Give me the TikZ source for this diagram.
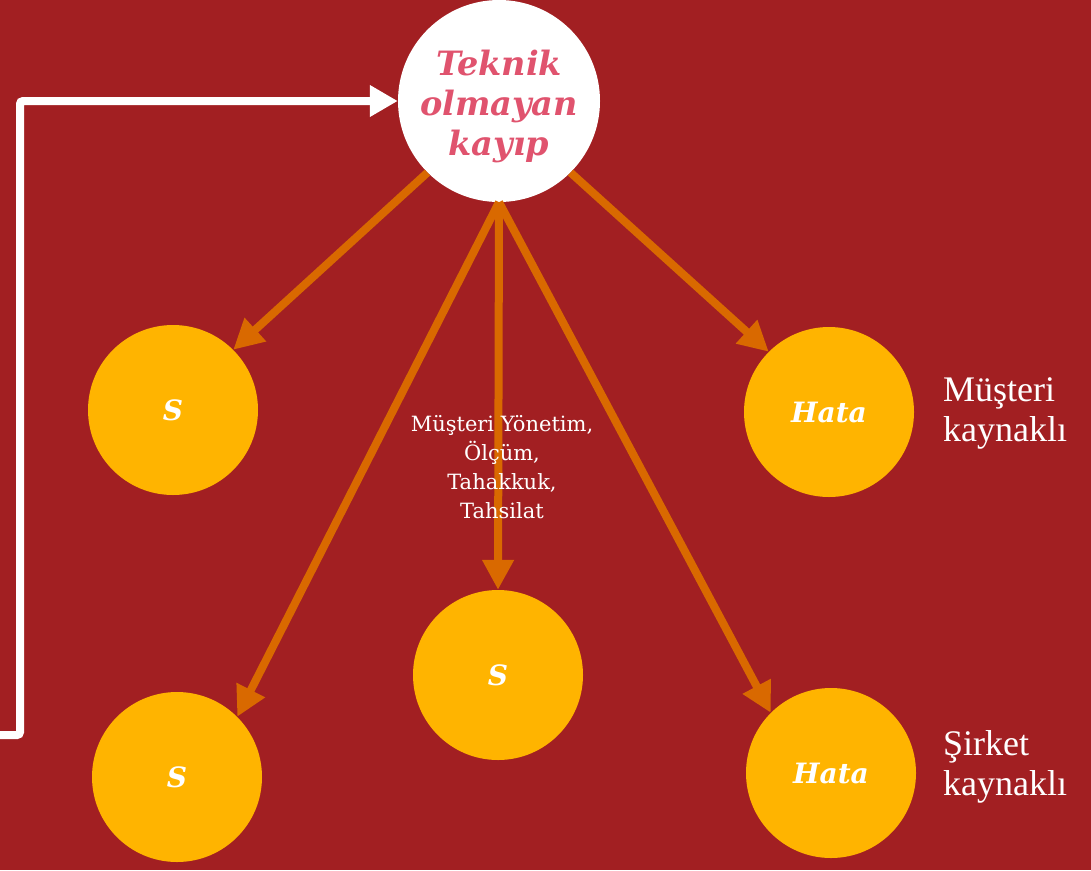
\documentclass[tikz,border=0pt]{standalone}
\usepackage{fontspec}
\setmainfont{DejaVu Serif}
\newfontfamily\libser{Liberation Serif}
\usetikzlibrary{arrows.meta}
\definecolor{bg}{HTML}{A21F22}
\definecolor{arr}{HTML}{D96900}
\definecolor{ylw}{HTML}{FFB400}
\definecolor{pnk}{HTML}{E0536E}
\tikzset{
  ball/.style={circle,fill=ylw,draw=none,minimum size=170pt,inner sep=0pt,
    text=white,font=\fontsize{28}{32}\selectfont\bfseries\itshape},
  topball/.style={circle,fill=white,draw=none,minimum size=202pt,inner sep=0pt},
  toptext/.style={text=pnk,align=center,inner sep=0pt,
    font=\fontsize{33.5}{40}\selectfont\bfseries\itshape},
  oarrow/.style={draw=arr,line width=8pt,-{Triangle[width=30pt,length=30pt]}},
  warrow/.style={draw=white,line width=8pt,rounded corners=3pt,-{Triangle[width=30pt,length=28pt]}},
  sidelabel/.style={text=white,anchor=west,align=left,inner sep=0pt,
    font=\libser\fontsize{36}{40}\selectfont},
  midlabel/.style={text=white,align=center,inner sep=0pt,
    font=\fontsize{21}{29}\selectfont}
}
\begin{document}
\begin{tikzpicture}[x=1pt,y=-1pt]
\fill[bg] (0,0) rectangle (1091,870);
\useasboundingbox (0,0) rectangle (1091,870);
\node[topball] (top) at (499,101) {};
\node[toptext] (tt) at (499,106) {Teknik\\olmayan\\kayıp};
\node[ball] (s1) at (173,410) {S};
\node[ball] (h1) at (829,412) {Hata};
\node[ball] (s2) at (498,675) {S};
\node[ball] (s3) at (177,777) {S};
\node[ball] (h2) at (831,773) {Hata};
\draw[oarrow] (top.-135) -- (s1.45);
\draw[oarrow] (top.-45) -- (h1.135);
\draw[oarrow] (top.south) -- (s2.north);
\draw[oarrow] (top.south) -- (s3.45);
\draw[oarrow] (top.south) -- (h2.135);
\node[midlabel] (ml) at (502,467) {Müşteri Yönetim,\\Ölçüm,\\Tahakkuk,\\Tahsilat};
\node[sidelabel] (l1) at (943,413) {Müşteri\\kaynaklı};
\node[sidelabel] (l2) at (943,767) {Şirket\\kaynaklı};
\coordinate (w0) at (0,735);
\coordinate (wc) at (20,735);
\draw[warrow] (w0) -- (wc) |- (top.west);
\end{tikzpicture}
\end{document}
